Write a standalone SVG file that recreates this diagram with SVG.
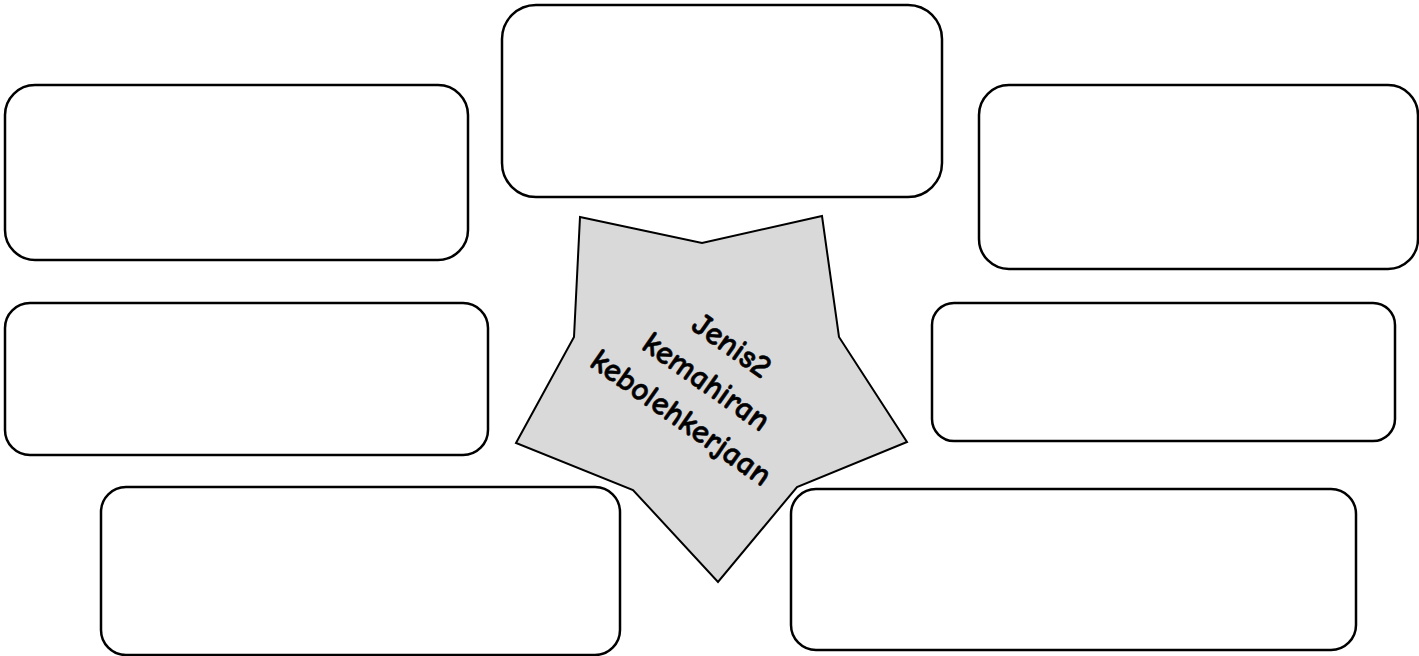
<svg xmlns="http://www.w3.org/2000/svg" width="1419" height="656" viewBox="0 0 1419 656">
<style>
.box{fill:#ffffff;stroke:#000000;stroke-width:2.5}
.star{fill:#d9d9d9;stroke:#000000;stroke-width:2}
.lbl{font-family:"Comic Sans MS","Comic Neue","DejaVu Sans",sans-serif;font-weight:bold;font-size:33px;fill:#000000;stroke:#000000;stroke-width:0.5;text-anchor:middle}
</style>
<rect width="1419" height="656" fill="#ffffff"/>
<g id="box-top-center"><rect class="box" x="502" y="5" width="440" height="192" rx="34"/></g>
<g id="box-left-top"><rect class="box" x="5" y="85" width="463" height="175" rx="30"/></g>
<g id="box-right-top"><rect class="box" x="979" y="85" width="439" height="184" rx="30"/></g>
<g id="box-left-middle"><rect class="box" x="5" y="303" width="483" height="152" rx="25"/></g>
<g id="box-right-middle"><rect class="box" x="932" y="303" width="463" height="138" rx="22"/></g>
<g id="box-left-bottom"><rect class="box" x="101" y="487" width="519" height="168" rx="25"/></g>
<g id="box-right-bottom"><rect class="box" x="791" y="489" width="565" height="161" rx="25"/></g>
<g id="star">
<polygon class="star" points="580,217 702,243 822,216 839,337 907,442 797,487 718,582 633,490 516,443 574,337"/>
<g transform="translate(706,382) rotate(35)">
<text class="lbl" x="0" y="-34">Jenis2</text>
<text class="lbl" x="0" y="10">kemahiran</text>
<text class="lbl" x="0" y="54">kebolehkerjaan</text>
</g>
</g>
<g id="connectors"></g>
</svg>
